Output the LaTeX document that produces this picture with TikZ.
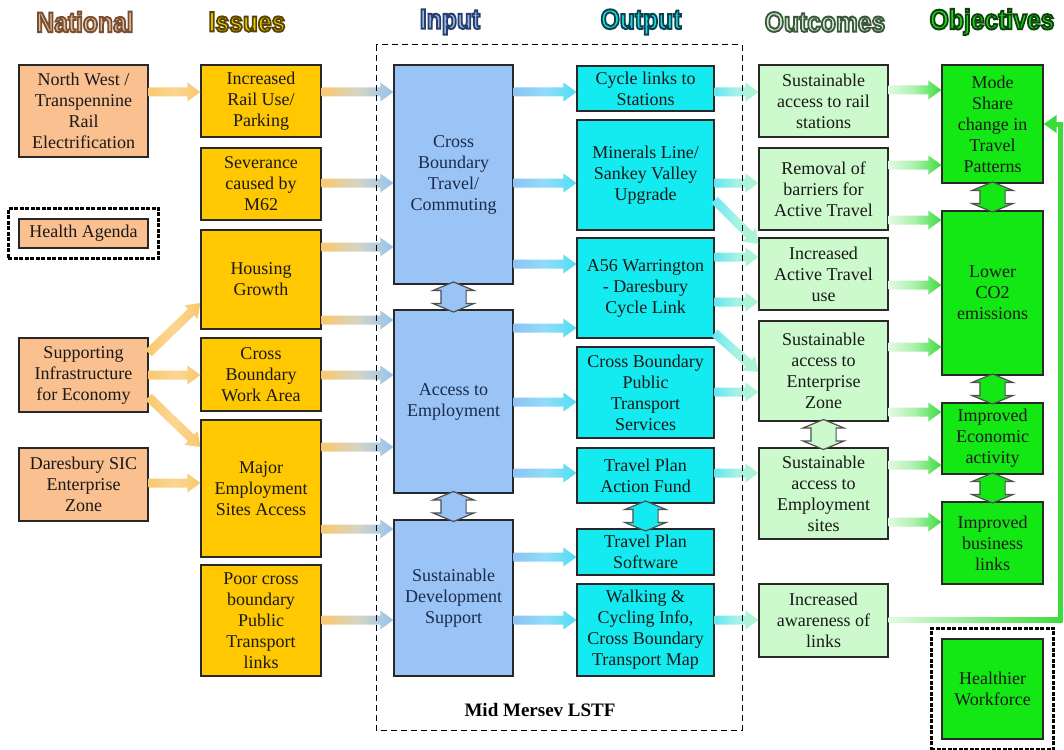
\documentclass[tikz,border=0pt]{standalone}
\usepackage{fontspec}
\setmainfont{Liberation Serif}
\newfontfamily\hdrfont{Liberation Sans}
\usepackage{graphicx}
\usepackage{xcolor}
\usetikzlibrary{calc,arrows.meta,positioning,shapes.arrows,fit}
\definecolor{natFill}{RGB}{250,192,144}
\definecolor{issFill}{RGB}{255,200,0}
\definecolor{inFill}{RGB}{153,196,245}
\definecolor{outFill}{RGB}{20,235,240}
\definecolor{ocFill}{RGB}{204,250,204}
\definecolor{objFill}{RGB}{20,232,20}
\definecolor{boxLine}{RGB}{40,40,40}
\definecolor{inText}{RGB}{28,42,74}
\definecolor{dblLine}{RGB}{80,80,80}
\definecolor{arOrange}{RGB}{250,200,110}
\definecolor{arBlue}{RGB}{150,196,240}
\definecolor{arSky}{RGB}{140,195,245}
\definecolor{arCyan}{RGB}{80,222,245}
\definecolor{arTeal}{RGB}{100,230,240}
\definecolor{arMint}{RGB}{175,245,205}
\definecolor{arPale}{RGB}{225,250,225}
\definecolor{arGreen}{RGB}{60,220,60}
\definecolor{hdNat}{RGB}{232,190,150}
\definecolor{hdIss}{RGB}{240,205,0}
\definecolor{hdIn}{RGB}{150,185,230}
\definecolor{hdOut}{RGB}{30,220,225}
\definecolor{hdOc}{RGB}{210,240,210}
\definecolor{hdObj}{RGB}{40,210,40}

% fat shaded arrow from #1 to #2
\newcommand{\flow}[4]{%
  \coordinate (fa) at (#1);
  \coordinate (fb) at (#2);
  \coordinate (fh) at ($(fb)!13pt!(fa)$);
  \path[left color=#3, right color=#4, middle color={#3!50!#4!75!white}]
    ($(fa)!4.5pt!90:(fb)$) -- ($(fh)!4.5pt!90:(fb)$) -- ($(fh)!9.5pt!90:(fb)$) -- (fb)
    -- ($(fh)!9.5pt!-90:(fb)$) -- ($(fh)!4.5pt!-90:(fb)$) -- ($(fa)!4.5pt!-90:(fb)$) -- cycle;
}
% outlined column heading, #5 = outline rgb
\newcommand{\header}[5]{%
  \node[hdrtext, text=#4] (#1) at (#2)
    {\scalebox{0.88}[1]{\special{pdf:literal direct #5 RG 2 w 2 Tr}#3\special{pdf:literal direct 0 Tr}}};
}

\tikzset{
  box/.style={draw=boxLine, line width=1.2pt, align=center, inner sep=1pt,
    text=black!90, font=\fontsize{18}{21}\selectfont},
  natbox/.style={box, fill=natFill, minimum width=129},
  issbox/.style={box, fill=issFill, minimum width=120},
  inbox/.style={box, fill=inFill, minimum width=119, text=inText},
  outbox/.style={box, fill=outFill, minimum width=137},
  ocbox/.style={box, fill=ocFill, minimum width=129},
  objbox/.style={box, fill=objFill, minimum width=101},
  hdrtext/.style={font=\hdrfont\bfseries\fontsize{28}{30}\selectfont, inner sep=0pt},
  dblarrow/.style={double arrow, rotate=90, draw=dblLine, line width=1.2pt,
    minimum height=30, double arrow head extend=8pt,
    double arrow tip angle=135, inner xsep=0pt, inner ysep=12pt},
  dotframe/.style={draw=black, line width=3pt, dash pattern=on 4pt off 1.5pt, inner sep=10pt},
  lstfframe/.style={draw=black, line width=1pt, dash pattern=on 6pt off 4pt},
  feedline/.style={draw=arGreen, line width=5pt, -{Triangle[length=13pt,width=17pt]}}
}

\begin{document}
\begin{tikzpicture}[x=1pt,y=-1pt]
\useasboundingbox[fill=white] (0,0) rectangle (1064,749);

% headings
\header{hnat}{85,22}{National}{hdNat}{0.47 0.31 0.20}
\header{hiss}{247,22}{Issues}{hdIss}{0.35 0.27 0}
\header{hin}{450,22}{Input}{hdIn}{0.16 0.24 0.43}
\header{hout}{641,22}{Output}{hdOut}{0.04 0.27 0.31}
\header{hoc}{825,22}{Outcomes}{hdOc}{0.24 0.35 0.24}
\header{hobj}{992,22}{Objectives}{hdObj}{0.04 0.27 0.04}

% national
\node[natbox, minimum height=92] (nw) at (83.5,111) {North West /\\Transpennine\\Rail\\Electrification};
\node[natbox, minimum height=29] (health) at (83.5,233.5) {Health Agenda};
\node[natbox, minimum height=74] (supp) at (83.5,375) {Supporting\\Infrastructure\\for Economy};
\node[natbox, minimum height=73] (dares) at (83.5,484.5) {Daresbury SIC\\Enterprise\\Zone};
\node[dotframe, fit=(health)] (healthframe) {};

% issues
\node[issbox, minimum height=72] (rail) at (261,101) {Increased\\Rail Use/\\Parking};
\node[issbox, minimum height=72] (sever) at (261,184) {Severance\\caused by\\M62};
\node[issbox, minimum height=99] (housing) at (261,279.5) {Housing\\Growth};
\node[issbox, minimum height=73] (cbwa) at (261,374.5) {Cross\\Boundary\\Work Area};
\node[issbox, minimum height=137] (major) at (261,488.5) {Major\\Employment\\Sites Access};
\node[issbox, minimum height=111] (poor) at (261,620.5) {Poor cross\\boundary\\Public\\Transport\\links};

% input
\node[inbox, minimum height=219] (cbt) at (453.5,174.5) {Cross\\Boundary\\Travel/\\Commuting};
\node[inbox, minimum height=183] (access) at (453.5,401.5) {Access to\\Employment};
\node[inbox, minimum height=156] (sds) at (453.5,598) {Sustainable\\Development\\Support};

% output
\node[outbox, minimum height=45] (cycle) at (645.5,88.5) {Cycle links to\\Stations};
\node[outbox, minimum height=110] (minerals) at (645.5,175) {Minerals Line/\\Sankey Valley\\Upgrade};
\node[outbox, minimum height=100] (a56) at (645.5,288) {A56 Warrington\\- Daresbury\\Cycle Link};
\node[outbox, minimum height=91] (cbpt) at (645.5,392.5) {Cross Boundary\\Public\\Transport\\Services};
\node[outbox, minimum height=55] (tpaf) at (645.5,475.5) {Travel Plan\\Action Fund};
\node[outbox, minimum height=46] (tps) at (645.5,552) {Travel Plan\\Software};
\node[outbox, minimum height=92] (walk) at (645.5,630) {Walking \&\\Cycling Info,\\Cross Boundary\\Transport Map};

% outcomes
\node[ocbox, minimum height=72] (srail) at (823.5,101) {Sustainable\\access to rail\\stations};
\node[ocbox, minimum height=82] (removal) at (823.5,189) {Removal of\\barriers for\\Active Travel};
\node[ocbox, minimum height=72] (iat) at (823.5,274) {Increased\\Active Travel\\use};
\node[ocbox, minimum height=100] (sez) at (823.5,371) {Sustainable\\access to\\Enterprise\\Zone};
\node[ocbox, minimum height=91] (sem) at (823.5,493.5) {Sustainable\\access to\\Employment\\sites};
\node[ocbox, minimum height=73] (aware) at (823.5,620.5) {Increased\\awareness of\\links};

% objectives
\node[objbox, minimum height=118] (mode) at (992.5,124) {Mode\\Share\\change in\\Travel\\Patterns};
\node[objbox, minimum height=164] (co2) at (992.5,293) {Lower\\CO2\\emissions};
\node[objbox, minimum height=71] (econ) at (992.5,438.5) {Improved\\Economic\\activity};
\node[objbox, minimum height=82] (biz) at (992.5,543) {Improved\\business\\links};
\node[objbox, minimum height=100] (fit) at (992.5,689) {Healthier\\Workforce};
\node[dotframe, fit=(fit)] (fitframe) {};

% arrows
\foreach \s/\t/\ya/\yb in {nw/rail/92/92, supp/housing/353/303, supp/cbwa/375/375,
    supp/major/397/447, dares/major/483/483}
  \flow{\s.east |- 0,\ya}{\t.west |- 0,\yb}{arOrange}{arOrange};
\foreach \s/\t/\y in {rail/cbt/92, sever/cbt/183, housing/cbt/247, housing/access/320,
    cbwa/access/375, major/access/447, major/sds/529, poor/sds/620}
  \flow{\s.east |- 0,\y}{\t.west |- 0,\y}{arOrange}{arBlue};
\foreach \s/\t/\y in {cbt/cycle/92, cbt/minerals/183, cbt/a56/264, access/a56/328,
    access/cbpt/402, access/tpaf/473, sds/tps/557, sds/walk/620}
  \flow{\s.east |- 0,\y}{\t.west |- 0,\y}{arSky}{arCyan};
\foreach \s/\t/\ya/\yb in {cycle/srail/92/92, minerals/removal/183/183, minerals/iat/200/244,
    a56/iat/257/257, a56/iat/302/302, a56/sez/333/372, cbpt/sez/392/392,
    tpaf/sem/473/473, walk/aware/620/620}
  \flow{\s.east |- 0,\ya}{\t.west |- 0,\yb}{arTeal}{arMint};
\foreach \s/\t/\y in {srail/mode/90, removal/mode/165, removal/co2/220, iat/co2/285,
    sez/co2/347, sez/econ/412, sem/econ/465, sem/biz/522}
  \flow{\s.east |- 0,\y}{\t.west |- 0,\y}{arPale}{arGreen};

% feedback to mode share
\coordinate (fbc) at (1060,620);
\path[left color=arPale, right color=arGreen] (aware.east |- 0,617.5) rectangle (1062.5,622.5);
\draw[feedline] (fbc) |- (mode.east);

% two-way links
\node[dblarrow, fill=inFill] (dbl1) at ($(cbt.south)!0.5!(access.north)$) {};
\node[dblarrow, fill=inFill] (dbl2) at ($(access.south)!0.5!(sds.north)$) {};
\node[dblarrow, fill=outFill] (dbl3) at ($(tpaf.south)!0.5!(tps.north)$) {};
\node[dblarrow, fill=ocFill] (dbl4) at ($(sez.south)!0.5!(sem.north)$) {};
\node[dblarrow, fill=objFill] (dbl5) at ($(mode.south)!0.5!(co2.north)$) {};
\node[dblarrow, fill=objFill] (dbl6) at ($(co2.south)!0.5!(econ.north)$) {};
\node[dblarrow, fill=objFill] (dbl7) at ($(econ.south)!0.5!(biz.north)$) {};

% LSTF frame
\draw[lstfframe] (376,45) rectangle (742,730);
\node[font=\bfseries\fontsize{19}{22}\selectfont] (lstf) at (540,710) {Mid Mersev LSTF};
\end{tikzpicture}
\end{document}
